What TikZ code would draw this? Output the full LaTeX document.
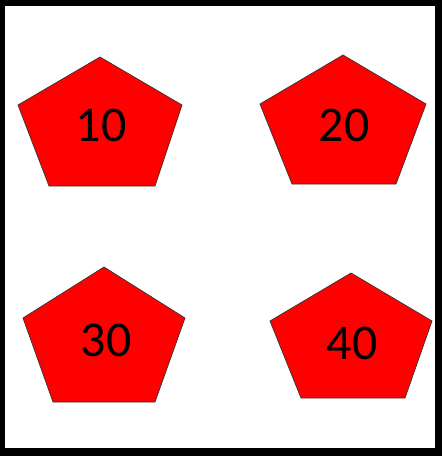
\documentclass[tikz,border=0pt]{standalone}
\usepackage{fontspec}
\setmainfont{Carlito}
\usepackage{xcolor}

\tikzset{
  penta/.style={fill=red, draw=black!80, line width=0.7pt, line join=miter},
  numlabel/.style={inner sep=0pt, font=\fontsize{50}{60}\selectfont, text=black}
}

\begin{document}
\begin{tikzpicture}[x=1pt,y=-1pt]
  % Frame
  \fill[black] (0,0) rectangle (442,456);
  \fill[white] (5,6) rectangle (435,448);
  \useasboundingbox (0,0) rectangle (442,456);

  % Pentagon 10
  \draw[penta] (100,57) -- (182,105) -- (155,186) -- (49,186) -- (18,105) -- cycle;
  \node[numlabel] (n10) at (101,125) {10};

  % Pentagon 20
  \draw[penta] (343,55) -- (426,104) -- (396,184) -- (292,184) -- (260,104) -- cycle;
  \node[numlabel] (n20) at (344,125) {20};

  % Pentagon 30
  \draw[penta] (104,267) -- (185,318) -- (155,402) -- (53,402) -- (23,318) -- cycle;
  \node[numlabel] (n30) at (106,340) {30};

  % Pentagon 40
  \draw[penta] (351,273) -- (432,321) -- (405,398) -- (301,398) -- (270,321) -- cycle;
  \node[numlabel] (n40) at (352,343) {40};
\end{tikzpicture}
\end{document}
